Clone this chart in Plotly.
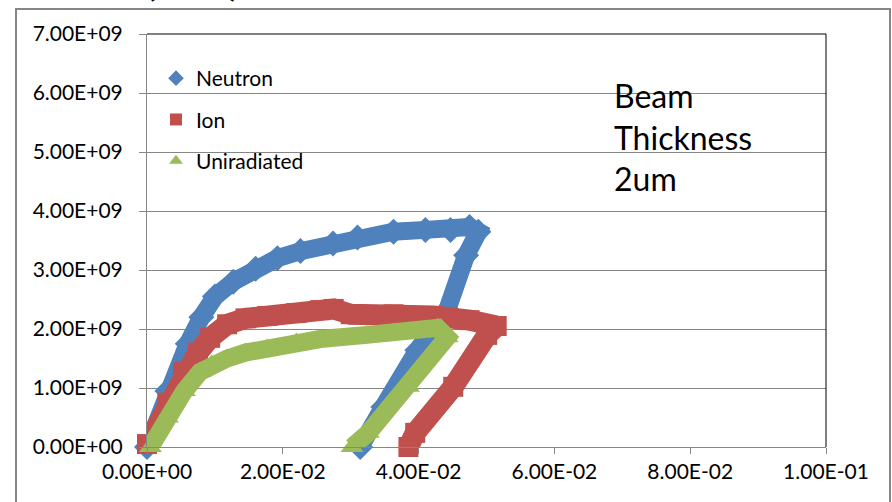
import plotly.graph_objects as go

# ---- data (strain, stress) ----
neutron_x = [0.0, 0.003, 0.006, 0.008, 0.010, 0.0127, 0.016, 0.0192, 0.0226, 0.0274,
             0.031, 0.0363, 0.041, 0.0447, 0.0475, 0.0488,
             0.0470, 0.0442, 0.0398, 0.0348, 0.0314]
neutron_y = [0.0, 0.95e9, 1.75e9, 2.2e9, 2.55e9, 2.8e9, 3.02e9, 3.2e9, 3.32e9, 3.45e9,
             3.55e9, 3.65e9, 3.68e9, 3.68e9, 3.73e9, 3.65e9,
             3.25e9, 2.32e9, 1.64e9, 0.68e9, 0.0]

ion_x = [0.0, 0.003, 0.0053, 0.0075, 0.0093, 0.0118, 0.0145, 0.0177, 0.022, 0.0255,
         0.0275, 0.030, 0.0363, 0.0422, 0.0475, 0.0515,
         0.0501, 0.0451, 0.0395, 0.0385]
ion_y = [0.05e9, 0.75e9, 1.27e9, 1.6e9, 1.85e9, 2.08e9, 2.18e9, 2.22e9, 2.27e9, 2.32e9,
         2.34e9, 2.25e9, 2.25e9, 2.22e9, 2.15e9, 2.05e9,
         1.9e9, 1.02e9, 0.24e9, 0.0]

unirr_x = [0.0005, 0.003, 0.0055, 0.0078, 0.0095, 0.0118, 0.0145, 0.0177, 0.022, 0.0255,
           0.0324, 0.0363, 0.0413, 0.0428,
           0.0442, 0.0385, 0.0326, 0.0302]
unirr_y = [0.0, 0.5e9, 0.95e9, 1.27e9, 1.4e9, 1.5e9, 1.6e9, 1.67e9, 1.77e9, 1.83e9,
           1.9e9, 1.94e9, 1.97e9, 2.02e9,
           1.86e9, 1.02e9, 0.24e9, 0.0]

series_names = ["Neutron", "Ion", "Uniradiated"]
series_colors = ["#4F81BD", "#C0504D", "#9BBB59"]
series_symbols = ["diamond", "square", "triangle-up"]

y_tick_vals = [0, 1e9, 2e9, 3e9, 4e9, 5e9, 6e9, 7e9]
y_tick_text = ["0.00E+00", "1.00E+09", "2.00E+09", "3.00E+09", "4.00E+09",
               "5.00E+09", "6.00E+09", "7.00E+09"]
x_tick_vals = [0, 0.02, 0.04, 0.06, 0.08, 0.1]
x_tick_text = ["0.00E+00", "2.00E-02", "4.00E-02", "6.00E-02", "8.00E-02", "1.00E-01"]

note_text = "Beam<br>Thickness<br>2um"
title_fragment = "<b>(MPa)</b>"

FONT = "Lato"
line_widths = [18, 21, 18]
marker_sizes = [20, 20, 20]

fig = go.Figure()
all_x = [neutron_x, ion_x, unirr_x]
all_y = [neutron_y, ion_y, unirr_y]
for name, color, sym, xs, ys, lw, ms in zip(series_names, series_colors, series_symbols,
                                            all_x, all_y, line_widths, marker_sizes):
    fig.add_trace(go.Scatter(
        x=xs, y=ys, mode="lines", line=dict(color=color, width=lw),
        showlegend=False, cliponaxis=False, hoverinfo="skip", legendgroup=name))
    fig.add_trace(go.Scatter(
        x=xs, y=ys, mode="markers", name=name, legendgroup=name,
        marker=dict(color=color, symbol=sym, size=ms, line=dict(width=0)),
        cliponaxis=False))

# plot area: left 147, right 826, top 34, bottom 447 (page px)
L, R, T, B = 147, 826, 34, 447
W, H = R - L, B - T

def px_x(p):
    return (p - L) / W

def px_y(p):
    return (B - p) / H

fig.update_layout(
    width=892, height=502,
    margin=dict(l=L, r=892 - R, t=T, b=502 - B),
    paper_bgcolor="white", plot_bgcolor="white",
    font=dict(family=FONT, color="#000000", size=21),
    legend=dict(x=px_x(156), y=px_y(58), xanchor="left", yanchor="top",
                bgcolor="rgba(0,0,0,0)", font=dict(size=21, family=FONT),
                tracegroupgap=11, itemsizing="constant"),
    xaxis=dict(range=[0, 0.1], tickvals=x_tick_vals, ticktext=x_tick_text,
               showgrid=False, zeroline=False, showline=True, linecolor="#868686",
               linewidth=1, ticks="outside", ticklen=6, tickcolor="#868686",
               tickfont=dict(size=21, family=FONT)),
    yaxis=dict(range=[0, 7e9], tickvals=y_tick_vals, ticktext=y_tick_text,
               showgrid=True, gridcolor="#868686", gridwidth=1, zeroline=False,
               showline=True, linecolor="#868686", linewidth=1,
               ticks="outside", ticklen=7, tickcolor="#868686",
               ticklabelstandoff=12,
               tickfont=dict(size=21, family=FONT)),
    shapes=[
        dict(type="line", xref="paper", yref="paper", x0=0, x1=1, y0=1, y1=1,
             line=dict(color="#000000", width=1)),
        dict(type="line", xref="paper", yref="paper", x0=1, x1=1, y0=0, y1=1,
             line=dict(color="#000000", width=1)),
        dict(type="rect", xref="paper", yref="paper",
             x0=px_x(16), x1=px_x(890), y0=px_y(515), y1=px_y(9),
             line=dict(color="#868686", width=2), layer="below"),
    ],
    annotations=[
        dict(text=note_text, xref="paper", yref="paper", x=px_x(612), y=px_y(74),
             xanchor="left", yanchor="top", align="left", showarrow=False,
             font=dict(size=32, family=FONT, color="#000000")),
        dict(text=title_fragment, xref="paper", yref="paper", x=px_x(192), y=px_y(6),
             xanchor="center", yanchor="bottom", showarrow=False,
             font=dict(size=36, family=FONT, color="#000000")),
    ],
)

fig.write_html("out.html")
